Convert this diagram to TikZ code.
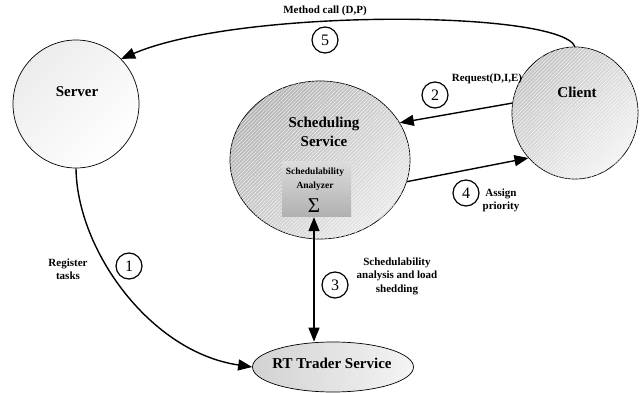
\documentclass[tikz,border=0pt]{standalone}
\usepackage{fontspec}
\setmainfont{Liberation Serif}
\usetikzlibrary{shapes.geometric,arrows.meta,patterns.meta}

\definecolor{schedDark}{HTML}{B4B4B4}
\definecolor{schedLight}{HTML}{E8E8E8}
\definecolor{clientDark}{HTML}{C4C4C4}
\definecolor{clientLight}{HTML}{F2F2F2}
\definecolor{serverDark}{HTML}{ECECEC}
\definecolor{rtDark}{HTML}{D2D2D2}
\definecolor{rtLight}{HTML}{F4F4F4}
\definecolor{boxTop}{HTML}{DCDCDC}
\definecolor{boxMid}{HTML}{F8F8F8}
\definecolor{boxBot}{HTML}{B0B0B0}

\begin{document}
\begin{tikzpicture}[x=1pt,y=-1pt,
  blob/.style={ellipse,draw=black,line width=0.7pt,inner sep=0pt},
  hatch/.style={postaction={pattern={Lines[angle=45,distance=2.6pt,line width=0.35pt]},
                pattern color=white,fill opacity=0.4}},
  big/.style={font=\bfseries\fontsize{15}{19}\selectfont,align=center,inner sep=0pt},
  small/.style={font=\bfseries\fontsize{11}{13.5}\selectfont,align=center,inner sep=0pt},
  tiny/.style={font=\bfseries\fontsize{9.5}{14}\selectfont,align=center,inner sep=0pt},
  num/.style={circle,draw=black,line width=1.2pt,minimum size=26pt,inner sep=0pt,
              font=\fontsize{16}{16}\selectfont},
  arr/.style={line width=1.4pt,-{Triangle[length=14pt,width=11pt]}},
  dblarr/.style={line width=1.4pt,{Triangle[length=14pt,width=11pt]}-{Triangle[length=14pt,width=11pt]}}
]
\useasboundingbox (0,0) rectangle (641,393);

% main components
\node[blob,minimum width=126pt,minimum height=128pt,
      top color=serverDark,bottom color=white,shading angle=45] (server) at (76,104) {};
\node[blob,minimum width=180pt,minimum height=158pt,
      top color=schedDark,bottom color=schedLight,shading angle=45,hatch] (sched) at (320,160) {};
\node[blob,minimum width=126pt,minimum height=132pt,
      top color=clientDark,bottom color=clientLight,shading angle=45,hatch] (client) at (575,113) {};
\node[blob,minimum width=161pt,minimum height=50pt,
      left color=rtDark,right color=rtLight] (rt) at (333,367) {};

% analyzer box inside the scheduling service
\node[minimum width=69pt,minimum height=55pt,inner sep=0pt,
      top color=boxTop,middle color=boxMid,bottom color=boxBot] (box) at (316.5,189.5) {};

% component names
\node[big] (serverTxt) at (77,92) {Server};
\node[big] (schedTxt) at (324,131.5) {Scheduling\\ Service};
\node[big] (clientTxt) at (577,92) {Client};
\node[big] (rtTxt) at (332,363) {RT Trader Service};
\node[tiny] (boxTxt) at (315,179) {Schedulability\\ Analyzer};
\node[inner sep=0pt,font=\fontsize{21}{21}\selectfont] (sigma) at (314,206) {Σ};

% interactions
\draw[arr] (client.north) .. controls (560,10) and (240,8) .. (server.45);
\draw[arr] (client.171) -- (sched.25);
\draw[arr] (sched.-14) -- (client.224);
\draw[dblarr] (box.south -| sigma) -- (sigma |- rt.north);
\draw[arr] (server.south) .. controls (77,250) and (150,352) .. (rt.west);

% step numbers
\node[num] (n5) at (325,40) {5};
\node[num] (n2) at (435,95) {2};
\node[num] (n4) at (466,193) {4};
\node[num] (n3) at (335,285) {3};
\node[num] (n1) at (129,266) {1};

% interaction labels
\node[small] (lbl5) at (325,11) {Method call (D,P)};
\node[small] (lbl2) at (487,79) {Request(D,I,E)};
\node[small] (lbl4) at (501,200.5) {Assign\\ priority};
\node[small] (lbl3) at (397,276) {Schedulability\\ analysis and load\\ shedding};
\node[small] (lbl1) at (68,269) {Register\\ tasks};
\end{tikzpicture}
\end{document}
